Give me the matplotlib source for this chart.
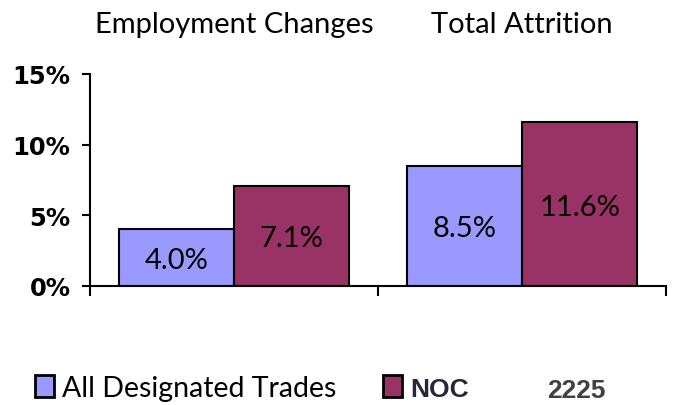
import numpy as np
import matplotlib
matplotlib.use('Agg')
import matplotlib.pyplot as plt
import matplotlib.transforms as mtransforms

# data
categories = ['Employment Changes', 'Total Attrition']
all_trades = [4.0, 8.5]
noc_2225 = [7.1, 11.6]
series_names = ['All Designated Trades', 'NOC']
y_ticks = [0, 5, 10, 15]
y_tick_labels = ['0%', '5%', '10%', '15%']

blue = '#9999FF'
maroon = '#993366'


def main():
    fig = plt.figure(figsize=(6.73, 4.06), dpi=100)
    ax = fig.add_axes([90 / 673, 119 / 406, 576 / 673, 212 / 406])

    x = np.arange(len(categories))
    width = 0.4
    b1 = ax.bar(x - width / 2, all_trades, width, color=blue,
                edgecolor='black', linewidth=1.5, label=series_names[0])
    b2 = ax.bar(x + width / 2, noc_2225, width, color=maroon,
                edgecolor='black', linewidth=1.5, label=series_names[1])

    # value labels centred in the bars
    for bars, vals in ((b1, all_trades), (b2, noc_2225)):
        for rect, v in zip(bars, vals):
            ax.text(rect.get_x() + rect.get_width() / 2, v / 2, f'{v:.1f}%',
                    ha='center', va='center_baseline', fontsize=21,
                    family='Lato', color='black')

    # category names above the plot
    trans = mtransforms.blended_transform_factory(ax.transData, fig.transFigure)
    for i, name in enumerate(categories):
        ax.text(i, 1 - 25 / 406, name, transform=trans, ha='center',
                va='center', fontsize=21, family='Lato')

    ax.set_xlim(-0.5, len(categories) - 0.5)
    ax.set_ylim(0, 15)
    ax.set_yticks(y_ticks)
    ax.set_yticklabels(y_tick_labels, fontsize=17.5, fontweight='bold',
                       family='DejaVu Sans')
    ax.set_xticks(np.arange(len(categories) + 1) - 0.5)
    ax.set_xticklabels([])

    for side in ['top', 'right']:
        ax.spines[side].set_visible(False)
    for side in ['left', 'bottom']:
        ax.spines[side].set_linewidth(1.5)
    ax.tick_params(axis='y', length=6, width=1.5, pad=8)
    ax.tick_params(axis='x', length=7, width=1.5)

    leg = fig.legend(loc='center left', bbox_to_anchor=(35 / 673, 1 - 389 / 406),
                     ncol=2, frameon=False, fontsize=20.5, handlelength=0.65,
                     handleheight=0.8, handletextpad=0.3, columnspacing=1.65,
                     borderaxespad=0, borderpad=0)
    for patch in leg.get_patches():
        patch.set_linewidth(2)
    texts = leg.get_texts()
    texts[0].set_family('Lato')
    texts[1].set_family('Liberation Sans')
    texts[1].set_fontweight('bold')
    texts[1].set_fontsize(19)
    texts[1].set_color('#26263a')
    fig.text(576 / 673, 1 - 391 / 406, '2225', ha='center', va='center',
             fontsize=19, fontweight='bold', color='#404040',
             family='Liberation Sans')

    fig.savefig('out.png', dpi=100)


if __name__ == "__main__":
    main()
